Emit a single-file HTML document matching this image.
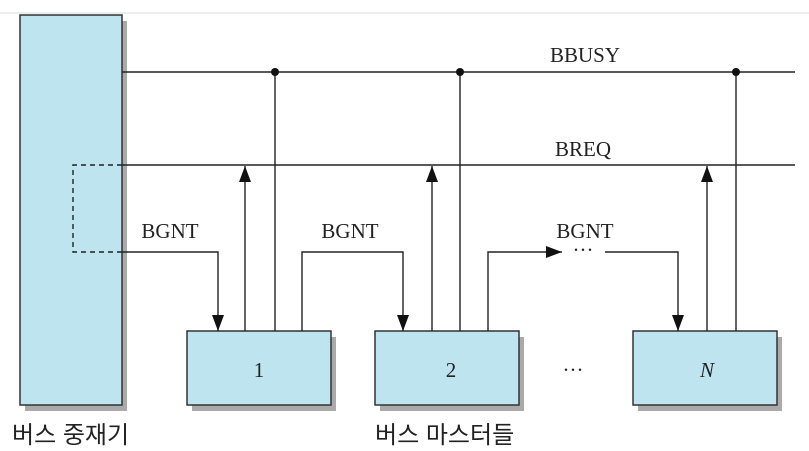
<!DOCTYPE html>
<html><head><meta charset="utf-8"><style>
html,body{margin:0;padding:0;background:#fff;}
svg{display:block;}
.t{font-family:"Liberation Serif",serif;font-size:21px;fill:#222;}
.k{font-family:"Liberation Sans","Noto Sans CJK KR",sans-serif;font-size:24px;fill:#222;}
</style></head><body>
<svg width="809" height="451" viewBox="0 0 809 451" xmlns="http://www.w3.org/2000/svg">
<defs>
<marker id="a" markerWidth="16" markerHeight="12" refX="16" refY="6" orient="auto" markerUnits="userSpaceOnUse">
<path d="M0,0 L16,6 L0,12 z" fill="#111"/></marker>
</defs>
<line x1="0" y1="13" x2="809" y2="13" stroke="#eee" stroke-width="2"/>
<rect x="25" y="21" width="102" height="390" fill="#aaa"/>
<rect x="20" y="15" width="102" height="390" fill="#bde4ef" stroke="#333" stroke-width="1.5"/>
<rect x="192" y="337" width="144" height="74" fill="#aaa"/>
<rect x="187" y="331" width="144" height="74" fill="#bde4ef" stroke="#333" stroke-width="1.5"/>
<rect x="380" y="337" width="144" height="74" fill="#aaa"/>
<rect x="375" y="331" width="144" height="74" fill="#bde4ef" stroke="#333" stroke-width="1.5"/>
<rect x="638" y="337" width="144" height="74" fill="#aaa"/>
<rect x="633" y="331" width="144" height="74" fill="#bde4ef" stroke="#333" stroke-width="1.5"/>
<g stroke="#222" stroke-width="1.4" fill="none">
<line x1="122" y1="72" x2="795" y2="72"/>
<line x1="122" y1="165" x2="795" y2="165"/>
<path d="M122,165 H73 V252 H122" stroke-dasharray="5,4"/>
<path d="M122,252 H218 V331" marker-end="url(#a)"/>
<line x1="245" y1="331" x2="245" y2="166" marker-end="url(#a)"/>
<line x1="275" y1="72" x2="275" y2="331"/>
<path d="M302,331 V252 H403 V331" marker-end="url(#a)"/>
<line x1="432" y1="331" x2="432" y2="166" marker-end="url(#a)"/>
<line x1="460" y1="72" x2="460" y2="331"/>
<path d="M488,331 V252 H562" marker-end="url(#a)"/>
<path d="M605,252 H678 V331" marker-end="url(#a)"/>
<line x1="707" y1="331" x2="707" y2="166" marker-end="url(#a)"/>
<line x1="736" y1="72" x2="736" y2="331"/>
</g>
<circle cx="275" cy="72" r="4" fill="#111"/>
<circle cx="460" cy="72" r="4" fill="#111"/>
<circle cx="736" cy="72" r="4" fill="#111"/>
<text class="t" x="585" y="62" text-anchor="middle">BBUSY</text>
<text class="t" x="583" y="156" text-anchor="middle">BREQ</text>
<text class="t" x="170" y="238" text-anchor="middle">BGNT</text>
<text class="t" x="350" y="238" text-anchor="middle">BGNT</text>
<text class="t" x="585" y="238" text-anchor="middle">BGNT</text>
<text class="t" x="583" y="257" text-anchor="middle">···</text>
<text class="t" x="259" y="377" text-anchor="middle">1</text>
<text class="t" x="451" y="377" text-anchor="middle">2</text>
<text class="t" x="707" y="377" text-anchor="middle" font-style="italic">N</text>
<text class="t" x="573" y="377" text-anchor="middle">···</text>
<text class="k" x="12" y="443">버스 중재기</text>
<text class="k" x="375" y="443">버스 마스터들</text>
</svg>
</body></html>
